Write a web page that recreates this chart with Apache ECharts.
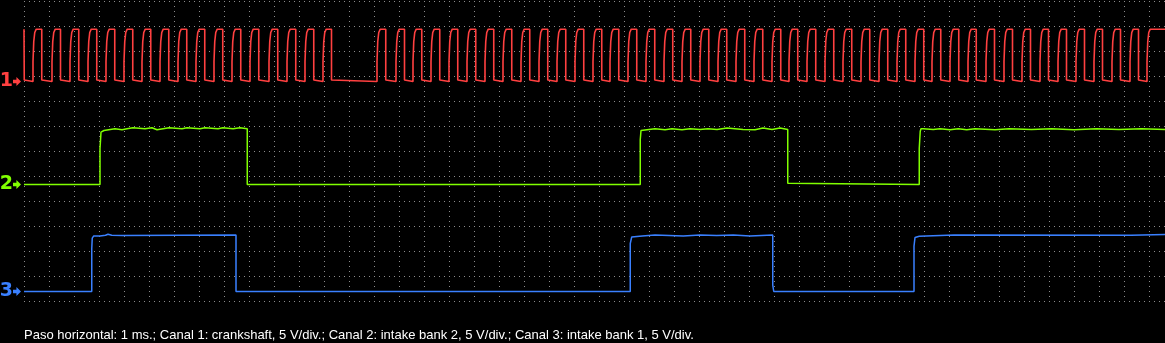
<!DOCTYPE html>
<html>
<head>
<meta charset="utf-8">
<script src="https://cdn.jsdelivr.net/npm/echarts@6/dist/echarts.min.js"></script>
<style>
html,body{margin:0;padding:0;background:#000;}
#c{width:1165px;height:343px;}
</style>
</head>
<body>
<div id="c"></div>
<script>
// ---- DATA (time in ms, amplitude in V) ----
const caption = 'Paso horizontal: 1 ms.; Canal 1: crankshaft, 5 V/div.; Canal 2: intake bank 2, 5 V/div.; Canal 3: intake bank 1, 5 V/div.';
const channelLabels = ['1', '2', '3'];

// Channel 1 (crankshaft): tooth rising edges and falling edges (ms)
const ch1Rise = [0.36,1.12,1.84,2.56,3.28,4.00,4.72,5.44,6.16,6.88,7.60,8.32,9.04,9.80,10.52,11.24,11.96,
  14.12,14.88,15.56,16.28,17.00,17.72,18.44,19.16,19.88,20.60,21.32,22.04,22.76,23.44,24.16,24.88,25.60,
  26.32,27.04,27.76,28.48,29.20,29.92,30.60,31.32,32.04,32.76,33.48,34.20,34.92,35.64,36.32,37.04,37.76,
  38.48,39.20,39.92,40.64,41.36,42.08,42.80,43.52,44.24,44.92];
const ch1Fall = [0.01,0.71,1.46,2.19,2.91,3.63,4.35,5.07,5.79,6.51,7.23,7.95,8.67,9.39,10.15,10.87,11.59,12.30,
  14.47,15.22,15.91,16.63,17.35,18.07,18.79,19.51,20.23,20.95,21.67,22.39,23.11,23.79,24.51,25.23,25.95,
  26.67,27.39,28.11,28.83,29.55,30.27,30.95,31.67,32.39,33.11,33.83,34.55,35.27,35.99,36.67,37.39,38.09,
  38.82,39.54,40.26,40.98,41.70,42.42,43.14,43.86,44.58];
const ch1High = 10.46;
const ch1RiseSteps = [[0, 4.0], [0.03, 8.0], [0.07, 9.8], [0.13, 10.46]];   // [dt ms, V]
const ch1FallSteps = [[0, 0.3], [0.04, 0]];

// Channel 2 (intake bank 2) samples [ms, V]
const ch2 = [[0,0],[3.04,0],[3.04,7.2],[3.08,7.2],[3.08,10.46],[3.12,10.46],[3.12,10.8],[3.2,10.8],[3.2,11.14],
  [3.64,11.14],[3.64,10.94],[3.92,10.94],[3.92,11.14],[4.12,11.14],[4.12,11.34],[4.36,11.34],[4.36,11.14],
  [4.84,11.14],[4.84,11.34],[5.12,11.34],[5.12,10.94],[5.32,10.94],[5.32,11.14],[5.56,11.14],[5.56,11.34],
  [5.80,11.34],[5.80,11.14],[6.32,11.14],[6.32,11.34],[6.52,11.34],[6.52,11.14],[7.04,11.14],[7.04,11.34],
  [7.24,11.34],[7.24,11.14],[7.76,11.14],[7.76,11.34],[7.96,11.34],[7.96,11.14],[8.36,11.14],[8.36,11.34],
  [8.64,11.34],[8.64,11.14],[8.93,11.14],[8.93,0],
  [24.65,0],[24.65,8.94],[24.68,8.94],[24.68,10.8],[24.75,10.8],[24.75,11.14],[25.24,11.14],[25.24,10.94],
  [25.64,10.94],[25.64,11.14],[25.92,11.14],[25.92,10.94],[26.32,10.94],[26.32,11.14],[26.64,11.14],[26.64,11.0],
  [27.04,11.0],[27.04,11.14],[27.36,11.14],[27.36,11.0],[27.72,11.0],[27.72,11.3],[28.12,11.3],[28.12,11.0],
  [28.76,11.0],[28.76,10.96],[29.24,10.96],[29.24,11.3],[29.56,11.3],[29.56,11.0],[29.92,11.0],[29.92,11.3],
  [30.24,11.3],[30.24,11.0],[30.55,11.0],[30.55,0.26],[30.57,0.26],[30.57,0],
  [35.81,0],[35.81,7.26],[35.85,7.26],[35.85,10.66],[35.88,10.66],[35.88,11.14],[35.97,11.14],[35.97,11.0],
  [36.37,11.0],[36.37,11.14],[36.64,11.14],[36.64,10.94],[37.04,10.94],[37.04,11.14],[37.37,11.14],[37.37,10.94],
  [37.71,10.94],[37.71,11.14],[38.04,11.14],[38.04,10.94],[38.84,10.94],[38.84,11.14],[39.4,11.14],[39.4,11.0],
  [40.3,11.0],[40.3,11.14],[41.1,11.14],[41.1,10.96],[42.0,10.96],[42.0,11.14],[42.9,11.14],[42.9,11.0],
  [43.8,11.0],[43.8,11.14],[44.7,11.14],[44.7,11.0],[45.64,11.0]];

// Channel 3 (intake bank 1) samples [ms, V]
const ch3 = [[0,0],[2.71,0],[2.71,8.6],[2.73,8.6],[2.73,10.66],[2.79,10.66],[2.79,11.12],[3.04,11.12],[3.04,11.26],
  [3.26,11.26],[3.26,11.46],[3.36,11.46],[3.36,11.26],[3.51,11.26],[3.51,11.19],[3.95,11.19],[3.95,11.3],
  [8.48,11.3],[8.48,0],
  [24.25,0],[24.25,9.6],[24.31,9.6],[24.31,10.92],[24.37,10.92],[24.37,11.12],[24.73,11.12],[24.73,11.32],
  [25.24,11.32],[25.24,11.12],[26.37,11.12],[26.37,11.32],[27.04,11.32],[27.04,11.18],[27.71,11.18],[27.71,11.32],
  [28.37,11.32],[28.37,11.12],[29.04,11.12],[29.04,11.32],[29.95,11.32],[29.95,1.26],[29.99,1.26],[29.99,0],
  [35.6,0],[35.6,9.06],[35.64,9.06],[35.64,10.8],[35.71,10.8],[35.71,11.06],[35.81,11.06],[35.81,11.32],
  [37.2,11.32],[37.2,11.26],[44.28,11.26],[44.28,11.4],[45.64,11.4]];

// ---- build channel 1 trace from edges ----
function buildCh1() {
  const pts = [[0, ch1High]];
  for (let i = 0; i < ch1Fall.length; i++) {
    const f = ch1Fall[i];
    pts.push([f, ch1High]);
    ch1FallSteps.forEach(([dt, v], k) => {
      if (k > 0) pts.push([f + dt, ch1FallSteps[k - 1][1]]);
      pts.push([f + dt, v]);
    });
    if (i < ch1Rise.length) {
      const r = ch1Rise[i];
      pts.push([r, 0]);
      ch1RiseSteps.forEach(([dt, v], k) => {
        if (k > 0) pts.push([r + dt, ch1RiseSteps[k - 1][1]]);
        pts.push([r + dt, v]);
      });
    }
  }
  pts.push([45.64, ch1High]);
  return pts;
}

const colors = ['#ff4040', '#80ff00', '#3a80ff'];
const gridColor = '#8c8c8c';
const arrowPath = 'path://M0,2.5 L3,2.5 L3,0 L7,4 L3,8 L3,5.5 L0,5.5 Z';

function marker(idx) {
  return {
    silent: true,
    symbol: arrowPath,
    symbolSize: [8, 9],
    symbolOffset: [-7, 0],
    itemStyle: { color: colors[idx] },
    label: {
      show: true, position: 'left', distance: 0,
      formatter: channelLabels[idx],
      color: colors[idx], fontSize: 19, fontWeight: 'bold', fontFamily: 'DejaVu Sans'
    },
    data: [{ coord: [0, 0] }]
  };
}

const chart = echarts.init(document.getElementById('c'), null, { renderer: 'canvas' });
chart.setOption({
  backgroundColor: '#000',
  animation: false,
  title: {
    text: caption, left: 24, top: 329, padding: 0,
    textStyle: { color: '#ffffff', fontSize: 13, fontWeight: 'normal', fontFamily: 'Liberation Sans' }
  },
  grid: { left: 24, top: 1, right: 0, height: 300, containLabel: false },
  xAxis: {
    type: 'value', min: 0, max: 45.64, interval: 1,
    axisLine: { show: false }, axisTick: { show: false }, axisLabel: { show: false },
    splitLine: { show: true, showMaxLine: false, lineStyle: { color: gridColor, width: 1, type: [1, 4] } }
  },
  yAxis: [
    { type: 'value', min: 0, max: 12, interval: 1,
      axisLine: { show: false }, axisTick: { show: false }, axisLabel: { show: false },
      splitLine: { show: true, lineStyle: { color: gridColor, width: 1, type: [1, 4] } } },
    { type: 'value', min: -43.9, max: 16.1, show: false },
    { type: 'value', min: -23.3, max: 36.7, show: false },
    { type: 'value', min: -1.9, max: 58.1, show: false }
  ],
  series: [
    { type: 'line', yAxisIndex: 1, data: buildCh1(), showSymbol: false, symbol: 'none', clip: false,
      lineStyle: { color: colors[0], width: 1.6 }, markPoint: marker(0) },
    { type: 'line', yAxisIndex: 2, data: ch2, showSymbol: false, symbol: 'none', clip: false,
      lineStyle: { color: colors[1], width: 1.5 }, markPoint: marker(1) },
    { type: 'line', yAxisIndex: 3, data: ch3, showSymbol: false, symbol: 'none', clip: false,
      lineStyle: { color: colors[2], width: 1.5 }, markPoint: marker(2) }
  ]
});
</script>
</body>
</html>
